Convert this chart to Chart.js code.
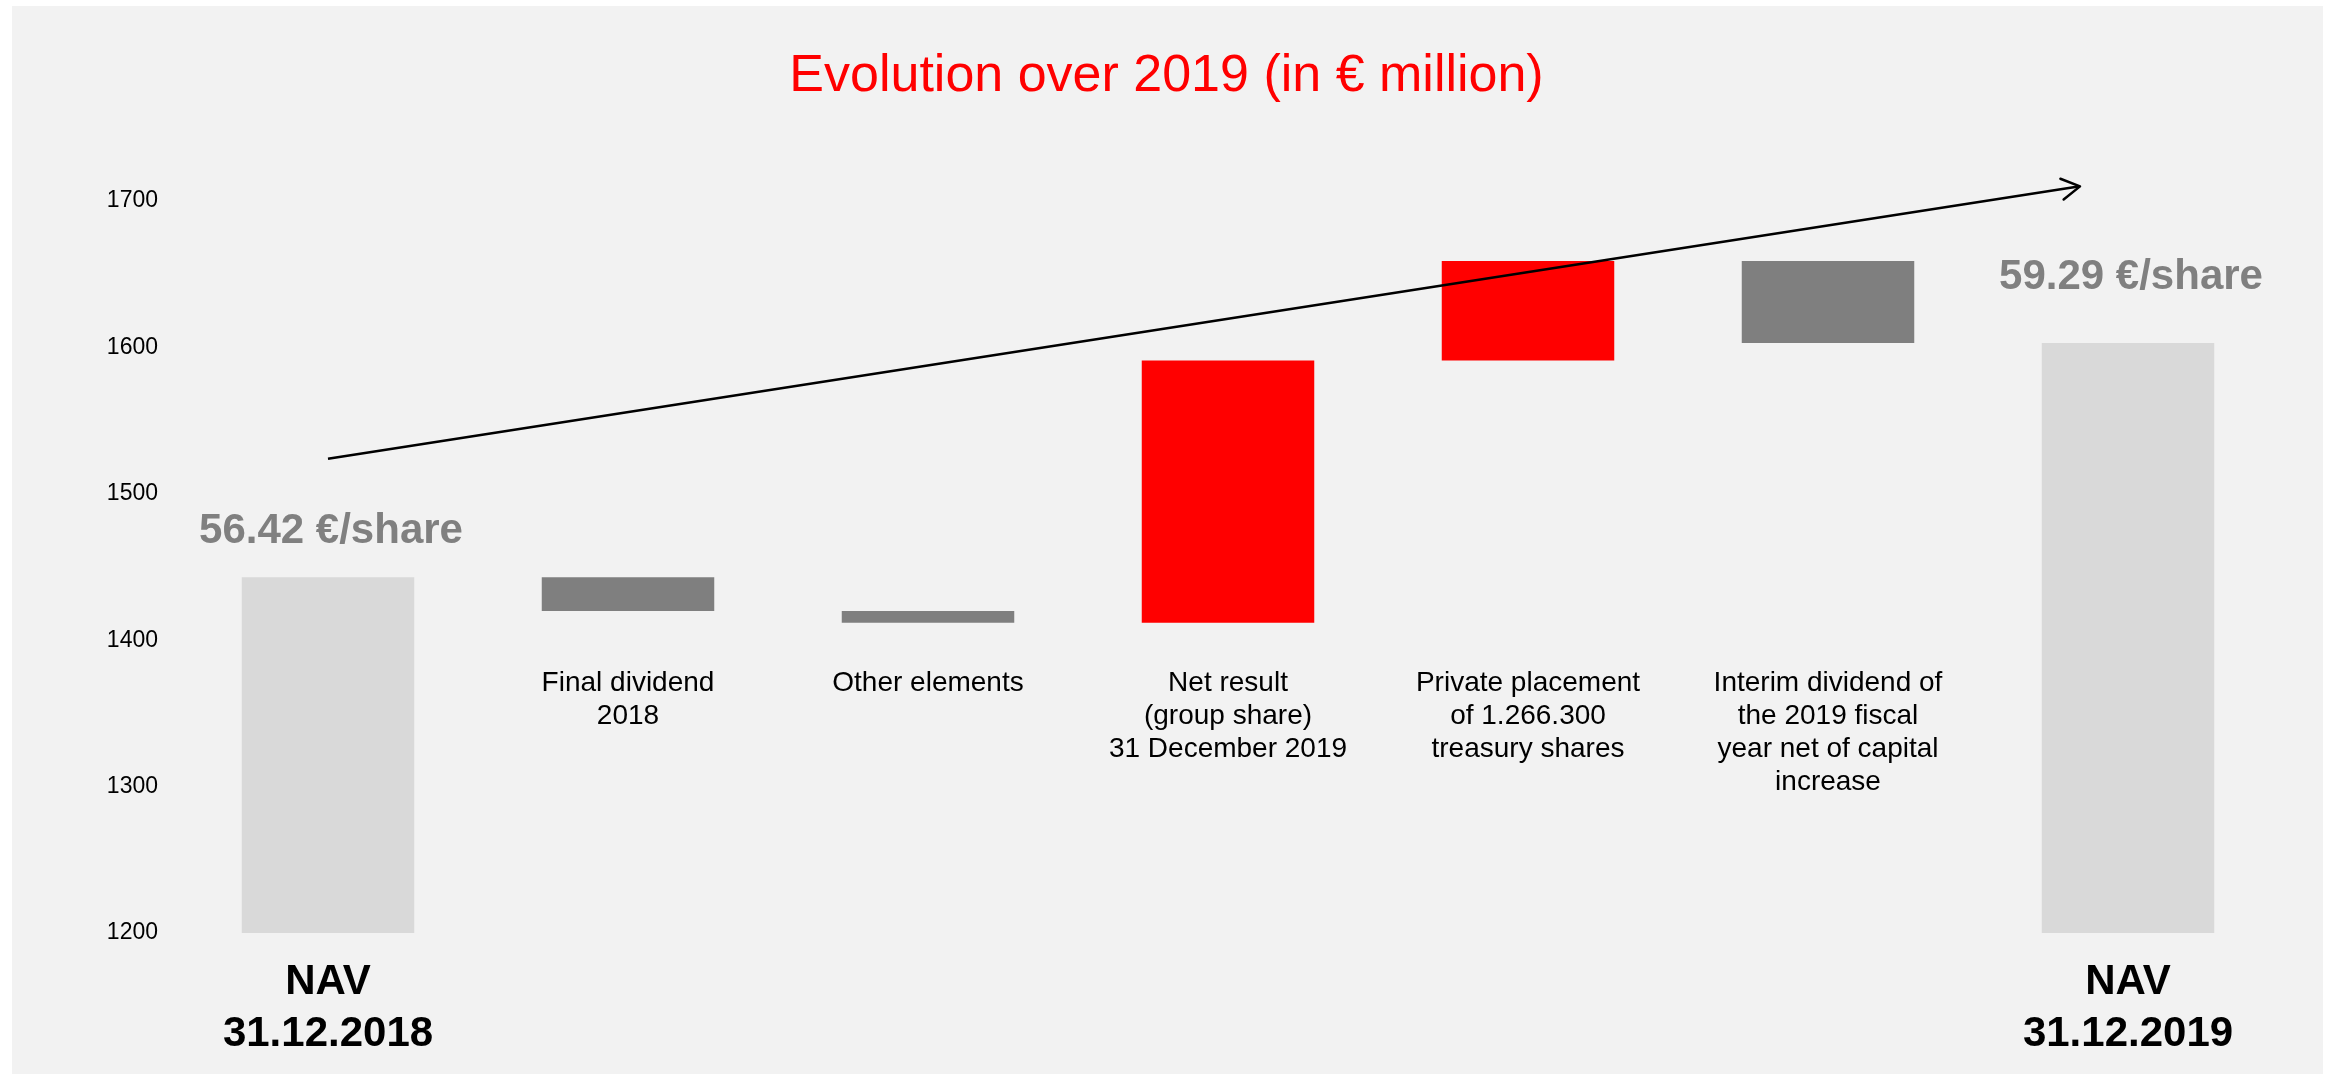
<!DOCTYPE html>
<html>
<head>
<meta charset="utf-8">
<title>Evolution over 2019 (in € million)</title>
<script src="https://cdn.jsdelivr.net/npm/chart.js@4/dist/chart.umd.min.js"></script>
<style>
  html, body { margin: 0; padding: 0; background: #ffffff; }
  #wrap { position: relative; width: 2333px; height: 1074px; overflow: hidden; }
  #panel { position: absolute; left: 12px; top: 6px; width: 2311px; height: 1068px; background: #f2f2f2; }
  #chart { position: absolute; left: 0; top: 0; }
</style>
</head>
<body>
<div id="wrap">
  <div id="panel"></div>
  <canvas id="chart" width="2333" height="1074"></canvas>
</div>
<script>
// Bridge steps, in € million
const stepLabels = [
  ['NAV', '31.12.2018'],
  ['Final dividend', '2018'],
  ['Other elements'],
  ['Net result', '(group share)', '31 December 2019'],
  ['Private placement', 'of 1.266.300', 'treasury shares'],
  ['Interim dividend of', 'the 2019 fiscal', 'year net of capital', 'increase'],
  ['NAV', '31.12.2019']
];
const navStart = 1443;
const changes = [-23, -8, 179, 68, -56];
const navEnd = 1603;
const navPerShare = ['56.42 €/share', '59.29 €/share'];
const yTicks = [1200, 1300, 1400, 1500, 1600, 1700];
// Trend arrow, as [category position, € million]
const trendFrom = [0, 1524];
const trendTo = [5.84, 1710];

const COL_TOTAL = '#d9d9d9';
const COL_DOWN = '#7f7f7f';
const COL_UP = '#ff0000';
const FONT = "'Liberation Sans', Arial, Helvetica, sans-serif";

// Floating bar ranges and colours built from the running total
const ranges = [[yTicks[0], navStart]];
const colours = [COL_TOTAL];
let level = navStart;
changes.forEach(d => {
  const next = level + d;
  ranges.push([Math.min(level, next), Math.max(level, next)]);
  colours.push(d < 0 ? COL_DOWN : COL_UP);
  level = next;
});
ranges.push([yTicks[0], navEnd]);
colours.push(COL_TOTAL);

const lastIdx = stepLabels.length - 1;
const isTotal = i => i === 0 || i === lastIdx;

// Step captions under the intermediate bars and €/share captions over the totals
const captionPlugin = {
  id: 'captions',
  afterDatasetsDraw(chart) {
    const ctx = chart.ctx;
    const x = chart.scales.x;
    const y = chart.scales.y;
    ctx.save();
    ctx.textAlign = 'center';
    ctx.textBaseline = 'alphabetic';

    ctx.fillStyle = '#000000';
    ctx.font = '28px ' + FONT;
    const firstBaseline = y.getPixelForValue(1365);
    stepLabels.forEach((lines, i) => {
      if (isTotal(i)) return;
      const cx = x.getPixelForValue(i);
      lines.forEach((t, k) => ctx.fillText(t, cx, firstBaseline + k * 33));
    });

    ctx.fillStyle = '#808080';
    ctx.font = 'bold 42px ' + FONT;
    const barMeta = chart.getDatasetMeta(0);
    const lift = [34, 54];
    [0, lastIdx].forEach((idx, k) => {
      const bar = barMeta.data[idx];
      ctx.fillText(navPerShare[k], bar.x + 3, bar.y - lift[k]);
    });
    ctx.restore();
  }
};

// Open arrowhead at the end of the trend line
const arrowPlugin = {
  id: 'arrowhead',
  afterDatasetsDraw(chart) {
    const pts = chart.getDatasetMeta(1).data;
    if (pts.length < 2) return;
    const a = pts[pts.length - 2], b = pts[pts.length - 1];
    const ang = Math.atan2(b.y - a.y, b.x - a.x);
    const len = 21, spread = Math.PI / 6;
    const ctx = chart.ctx;
    ctx.save();
    ctx.strokeStyle = '#000000';
    ctx.lineWidth = 2.5;
    ctx.lineCap = 'round';
    ctx.lineJoin = 'round';
    ctx.beginPath();
    ctx.moveTo(b.x - len * Math.cos(ang - spread), b.y - len * Math.sin(ang - spread));
    ctx.lineTo(b.x, b.y);
    ctx.lineTo(b.x - len * Math.cos(ang + spread), b.y - len * Math.sin(ang + spread));
    ctx.stroke();
    ctx.restore();
  }
};

Chart.defaults.font.family = FONT;

new Chart(document.getElementById('chart'), {
  data: {
    labels: stepLabels,
    datasets: [
      {
        type: 'bar',
        data: ranges,
        backgroundColor: colours,
        borderWidth: 0,
        grouped: false,
        categoryPercentage: 1,
        barPercentage: 0.575,
        xAxisID: 'x',
        yAxisID: 'y',
        order: 2
      },
      {
        type: 'line',
        data: [{ x: trendFrom[0], y: trendFrom[1] }, { x: trendTo[0], y: trendTo[1] }],
        borderColor: '#000000',
        borderWidth: 2.5,
        pointRadius: 0,
        tension: 0,
        clip: false,
        xAxisID: 'xt',
        yAxisID: 'y',
        order: 1
      }
    ]
  },
  options: {
    responsive: false,
    animation: false,
    devicePixelRatio: 1,
    layout: { padding: { left: 55, right: 55, top: 0, bottom: 0 } },
    plugins: {
      legend: { display: false },
      tooltip: { enabled: false },
      title: {
        display: true,
        text: 'Evolution over 2019 (in € million)',
        color: '#ff0000',
        font: { family: FONT, size: 52, weight: 'normal', lineHeight: 1.2 },
        padding: { top: 45, bottom: 93.6 }
      }
    },
    scales: {
      x: {
        type: 'category',
        offset: true,
        grid: { display: false, drawTicks: false },
        border: { display: false },
        ticks: {
          autoSkip: false,
          maxRotation: 0,
          padding: 24,
          color: '#000000',
          font: { family: FONT, size: 42, weight: 'bold', lineHeight: 1.23 },
          callback: (v, i) => (isTotal(i) ? stepLabels[i] : '')
        },
        afterFit: s => { s.height = 141; }
      },
      xt: {
        type: 'linear',
        display: false,
        min: -0.5,
        max: stepLabels.length - 0.5
      },
      y: {
        type: 'linear',
        min: yTicks[0],
        max: yTicks[yTicks.length - 1],
        grid: { display: false, drawTicks: false },
        border: { display: false },
        afterBuildTicks: s => { s.ticks = yTicks.map(v => ({ value: v })); },
        ticks: {
          padding: 20,
          color: '#000000',
          font: { family: FONT, size: 23 },
          callback: v => String(v)
        },
        afterFit: s => { s.width = 123; }
      }
    }
  },
  plugins: [captionPlugin, arrowPlugin]
});
</script>
</body>
</html>
